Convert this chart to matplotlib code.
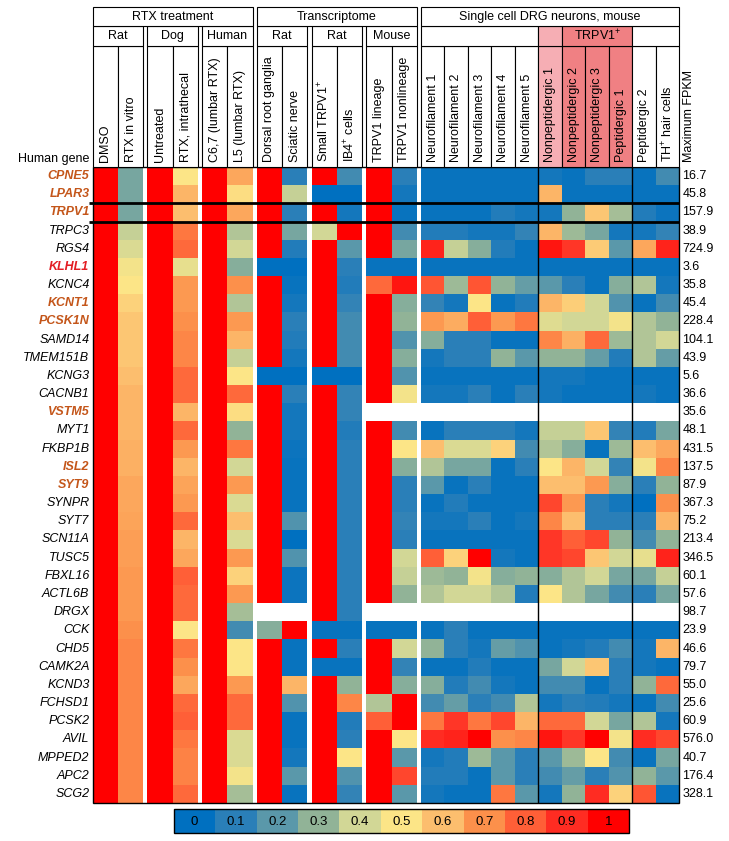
import numpy as np
import matplotlib
matplotlib.use('Agg')
import matplotlib.pyplot as plt
from matplotlib.colors import LinearSegmentedColormap
from matplotlib.patches import Rectangle

plt.rcParams['font.family'] = ['Liberation Sans', 'DejaVu Sans']
plt.rcParams['mathtext.fontset'] = 'custom'
plt.rcParams['mathtext.rm'] = 'Liberation Sans'

# ---- data ----
genes = ['CPNE5', 'LPAR3', 'TRPV1', 'TRPC3', 'RGS4', 'KLHL1', 'KCNC4', 'KCNT1', 'PCSK1N',
         'SAMD14', 'TMEM151B', 'KCNG3', 'CACNB1', 'VSTM5', 'MYT1', 'FKBP1B', 'ISL2', 'SYT9',
         'SYNPR', 'SYT7', 'SCN11A', 'TUSC5', 'FBXL16', 'ACTL6B', 'DRGX', 'CCK', 'CHD5',
         'CAMK2A', 'KCND3', 'FCHSD1', 'PCSK2', 'AVIL', 'MPPED2', 'APC2', 'SCG2']
orange_genes = ['CPNE5', 'LPAR3', 'TRPV1', 'KCNT1', 'PCSK1N', 'VSTM5', 'ISL2', 'SYT9']
red_genes = ['KLHL1']
max_fpkm = [16.7, 45.8, 157.9, 38.9, 724.9, 3.6, 35.8, 45.4, 228.4, 104.1, 43.9, 5.6, 36.6,
            35.6, 48.1, 431.5, 137.5, 87.9, 367.3, 75.2, 213.4, 346.5, 60.1, 57.6, 98.7, 23.9,
            46.6, 79.7, 55.0, 25.6, 60.9, 576.0, 40.7, 176.4, 328.1]

col_labels = ['DMSO', 'RTX in vitro', 'Untreated', 'RTX, intrathecal', 'C6,7 (lumbar RTX)',
              'L5 (lumbar RTX)', 'Dorsal root ganglia', 'Sciatic nerve', 'Small TRPV1$^{+}$',
              'IB4$^{+}$ cells', 'TRPV1 lineage', 'TRPV1 nonlineage', 'Neurofilament 1',
              'Neurofilament 2', 'Neurofilament 3', 'Neurofilament 4', 'Neurofilament 5',
              'Nonpeptidergic 1', 'Nonpeptidergic 2', 'Nonpeptidergic 3', 'Peptidergic 1',
              'Peptidergic 2', 'TH$^{+}$ hair cells']
top_groups = [('RTX treatment', 0, 5), ('Transcriptome', 6, 11),
              ('Single cell DRG neurons, mouse', 12, 22)]
sub_groups = [('Rat', 0, 1), ('Dog', 2, 3), ('Human', 4, 5), ('Rat', 6, 7), ('Rat', 8, 9),
              ('Mouse', 10, 11), ('', 12, 16), ('', 17, 17), ('TRPV1$^{+}$', 18, 20), ('', 21, 22)]

nan = np.nan
# DMSO, RTX in vitro, Untreated, RTX intrathecal, C6,7, L5
rtx = [
    [1, 0.25, 1, 0.50, 1, 0.65], [1, 0.25, 1, 0.62, 1, 0.52], [1, 0.25, 1, 0.60, 1, 0.65],
    [1, 0.38, 1, 0.75, 1, 0.35], [1, 0.42, 1, 0.78, 1, 0.40], [1, 0.48, 1, 0.45, 1, 0.28],
    [1, 0.50, 1, 0.68, 1, 0.70], [1, 0.55, 1, 0.68, 1, 0.35], [1, 0.58, 1, 0.70, 1, 0.68],
    [1, 0.58, 1, 0.72, 1, 0.62], [1, 0.58, 1, 0.72, 1, 0.38], [1, 0.60, 1, 0.78, 1, 0.50],
    [1, 0.62, 1, 0.78, 1, 0.78], [1, 0.62, 1, 0.62, 1, 0.52], [1, 0.62, 1, 0.78, 1, 0.30],
    [1, 0.63, 1, 0.68, 1, 0.75], [1, 0.63, 1, 0.62, 1, 0.40], [1, 0.65, 1, 0.66, 1, 0.68],
    [1, 0.65, 1, 0.68, 1, 0.42], [1, 0.66, 1, 0.78, 1, 0.60], [1, 0.67, 1, 0.62, 1, 0.42],
    [1, 0.67, 1, 0.65, 1, 0.68], [1, 0.68, 1, 0.80, 1, 0.55], [1, 0.68, 1, 0.78, 1, 0.68],
    [1, 0.68, 1, 0.78, 1, 0.33], [1, 0.70, 1, 0.50, 1, 0.15], [1, 0.72, 1, 0.75, 1, 0.50],
    [1, 0.72, 1, 0.70, 1, 0.50], [1, 0.72, 1, 0.65, 1, 0.68], [1, 0.72, 1, 0.78, 1, 0.78],
    [1, 0.72, 1, 0.80, 1, 0.78], [1, 0.72, 1, 0.75, 1, 0.42], [1, 0.72, 1, 0.73, 1, 0.42],
    [1, 0.72, 1, 0.73, 1, 0.48], [1, 0.72, 1, 0.78, 1, 0.33],
]
# DRG, sciatic nerve, small TRPV1+, IB4+, TRPV1 lineage, TRPV1 nonlineage
transcriptome = [
    [1, 0.10, 1, 0.15, 1, 0.10], [1, 0.38, 0, 0, 1, 0.05], [1, 0.10, 1, 0.05, 1, 0.02],
    [1, 0.25, 0.40, 1, 1, 0.15], [1, 0.08, 1, 0.20, 1, 0.25], [0, 0, 1, 0.10, 0.02, 0.02],
    [1, 0.02, 1, 0.08, 0.78, 0.95], [1, 0.05, 1, 0.12, 1, 0.28], [1, 0.10, 1, 0.15, 1, 0.30],
    [1, 0.08, 1, 0.15, 1, 0.18], [1, 0.05, 1, 0.15, 1, 0.28], [0, 0, 0, 0, 1, 0.18],
    [1, 0.10, 1, 0.12, 1, 0.48], [1, 0.05, 1, 0.12, nan, nan], [1, 0.05, 1, 0.08, 1, 0.15],
    [1, 0.03, 1, 0.10, 1, 0.50], [1, 0.02, 1, 0.10, 1, 0.28], [1, 0.02, 1, 0.10, 1, 0.10],
    [1, 0.02, 1, 0.10, 1, 0.10], [1, 0.18, 1, 0.10, 1, 0.12], [1, 0.00, 1, 0.10, 1, 0.10],
    [1, 0.18, 1, 0.10, 1, 0.40], [1, 0.03, 1, 0.10, 1, 0.38], [1, 0.03, 1, 0.10, 1, 0.30],
    [nan, nan, 1, 0.10, nan, nan], [0.28, 1, 0.02, 0.02, 0.02, 0.02], [1, 0.02, 1, 0.10, 1, 0.40],
    [1, 0.02, 0.02, 0.02, 1, 0.12], [1, 0.62, 1, 0.30, 1, 0.28], [1, 0.18, 1, 0.72, 0.35, 1],
    [1, 0.02, 1, 0.08, 0.80, 1], [1, 0.02, 1, 0.10, 1, 0.50], [1, 0.05, 1, 0.50, 1, 0.20],
    [1, 0.20, 1, 0.18, 1, 0.85], [1, 0.02, 1, 0.12, 1, 0.20],
]
# NF1-5, NP1-3, PEP1, PEP2, TH+
single_cell = [
    [0.02, 0.02, 0.02, 0.02, 0.02, 0.05, 0.02, 0.10, 0.10, 0.02, 0.15],
    [0.02, 0.02, 0.02, 0.02, 0.02, 0.62, 0.02, 0.02, 0.02, 0.02, 0.02],
    [0.02, 0.02, 0.02, 0.08, 0.05, 0.05, 0.30, 0.58, 0.33, 0.08, 0.03],
    [0.08, 0.08, 0.05, 0.05, 0.12, 0.62, 0.32, 0.25, 0.05, 0.05, 0.12],
    [0.92, 0.38, 0.28, 0.08, 0.02, 0.95, 0.88, 0.57, 0.20, 0.65, 0.92],
    [0.02, 0.02, 0.02, 0.02, 0.02, 0.02, 0.02, 0.02, 0.02, 0.02, 0.02],
    [0.82, 0.32, 0.82, 0.30, 0.22, 0.20, 0.10, 0.02, 0.28, 0.35, 0.05],
    [0.12, 0.05, 0.50, 0.02, 0.08, 0.62, 0.56, 0.40, 0.18, 0.02, 0.15],
    [0.68, 0.64, 0.80, 0.68, 0.75, 0.43, 0.40, 0.40, 0.48, 0.35, 0.30],
    [0.28, 0.10, 0.10, 0.02, 0.02, 0.72, 0.63, 0.78, 0.32, 0.35, 0.40],
    [0.05, 0.10, 0.10, 0.30, 0.20, 0.30, 0.30, 0.22, 0.08, 0.35, 0.22],
    [0.02, 0.02, 0.02, 0.02, 0.02, 0.05, 0.05, 0.02, 0.02, 0.02, 0.02],
    [0.05, 0.05, 0.10, 0.02, 0.10, 0.05, 0.02, 0.02, 0.02, 0.05, 0.02],
    [nan] * 11,
    [0.02, 0.10, 0.10, 0.10, 0.05, 0.38, 0.38, 0.58, 0.12, 0.08, 0.25],
    [0.60, 0.42, 0.42, 0.55, 0.15, 0.35, 0.28, 0.02, 0.32, 0.60, 0.65],
    [0.35, 0.25, 0.25, 0.02, 0.10, 0.50, 0.62, 0.40, 0.12, 0.48, 0.72],
    [0.20, 0.02, 0.10, 0.02, 0.02, 0.60, 0.60, 0.68, 0.28, 0.10, 0.30],
    [0.02, 0.08, 0.02, 0.02, 0.02, 0.85, 0.68, 0.10, 0.05, 0.00, 0.70],
    [0.05, 0.05, 0.10, 0.02, 0.05, 0.72, 0.60, 0.10, 0.10, 0.10, 0.62],
    [0.02, 0.02, 0.02, 0.02, 0.02, 0.88, 0.80, 0.85, 0.30, 0.15, 0.30],
    [0.80, 0.55, 1.00, 0.05, 0.02, 0.88, 0.85, 0.58, 0.40, 0.45, 0.92],
    [0.32, 0.30, 0.48, 0.28, 0.30, 0.28, 0.35, 0.40, 0.25, 0.25, 0.38],
    [0.35, 0.40, 0.40, 0.35, 0.08, 0.50, 0.35, 0.25, 0.15, 0.10, 0.25],
    [nan] * 11,
    [0.02, 0.10, 0.02, 0.02, 0.02, 0.02, 0.02, 0.02, 0.02, 0.02, 0.02],
    [0.30, 0.10, 0.05, 0.22, 0.18, 0.02, 0.05, 0.08, 0.15, 0.05, 0.62],
    [0.02, 0.02, 0.08, 0.02, 0.02, 0.25, 0.40, 0.58, 0.10, 0.05, 0.02],
    [0.28, 0.08, 0.15, 0.05, 0.02, 0.15, 0.15, 0.02, 0.10, 0.30, 0.78],
    [0.15, 0.22, 0.10, 0.15, 0.35, 0.05, 0.10, 0.08, 0.05, 0.02, 0.15],
    [0.75, 0.88, 0.75, 0.85, 0.62, 0.78, 0.78, 0.40, 0.25, 0.35, 0.05],
    [0.90, 0.92, 1.00, 0.70, 0.72, 0.95, 0.88, 1.00, 0.48, 0.90, 0.85],
    [0.05, 0.08, 0.32, 0.20, 0.10, 0.20, 0.32, 0.50, 0.15, 0.02, 0.25],
    [0.08, 0.08, 0.02, 0.20, 0.10, 0.15, 0.22, 0.10, 0.18, 0.30, 0.20],
    [0.05, 0.02, 0.02, 0.75, 0.20, 0.05, 0.30, 0.90, 0.55, 0.82, 0.02],
]
legend_ticks = [0, 0.1, 0.2, 0.3, 0.4, 0.5, 0.6, 0.7, 0.8, 0.9, 1]

# ---- colours ----
anchor_colors = ['#0070C0', '#2B7FB8', '#5A98AA', '#92B497', '#D2D796', '#FCE687',
                 '#FCBE6E', '#FC914B', '#FF5F37', '#FF2D23', '#FF0000']
cmap = LinearSegmentedColormap.from_list('heat', list(zip(legend_ticks, anchor_colors)))
cmap.set_bad('white')
orange = '#C4561A'
red = '#E31E24'
light_pink = '#F6AEB4'
salmon = '#F08083'

# ---- layout (pixels) ----
W, H = 729, 841
fig = plt.figure(figsize=(W / 100, H / 100), dpi=100)
ax = fig.add_axes([0, 0, 1, 1])
ax.set_xlim(0, W)
ax.set_ylim(H, 0)
ax.axis('off')

values = np.hstack([np.array(rtx), np.array(transcriptome), np.array(single_cell)])
n_rows, n_cols = values.shape
widths = [25.3] * 12 + [23.5] * 11
gap_after = {1, 3, 5, 7, 9, 11}
lefts = []
x = 92.7
for j in range(n_cols):
    lefts.append(x)
    x += widths[j]
    if j in gap_after:
        x += 4.1
rights = [l + w for l, w in zip(lefts, widths)]
top, row_h = 167, 18.17
y_edges = top + row_h * np.arange(n_rows + 1)
y_mid = (y_edges[:-1] + y_edges[1:]) / 2
bottom = y_edges[-1]

# heatmap blocks separated by white gaps
blocks = [(0, 1), (2, 3), (4, 5), (6, 7), (8, 9), (10, 11), (12, 22)]
for a, b in blocks:
    xe = lefts[a:b + 1] + [rights[b]]
    ax.pcolormesh(xe, y_edges, np.ma.masked_invalid(values[:, a:b + 1]),
                  cmap=cmap, vmin=0, vmax=1, shading='flat', antialiased=False)

ax.add_patch(Rectangle((lefts[0], top), rights[-1] - lefts[0], bottom - top,
                       fill=False, ec='black', lw=1))
ax.vlines([lefts[17], rights[20]], top, bottom, color='black', lw=1)
ax.hlines([y_edges[2], y_edges[3]], 89.5, rights[-1], color='black', lw=2)

# header: column boxes
lab_top = 45.7
for j, lab in enumerate(col_labels):
    fc = light_pink if j == 17 else (salmon if 18 <= j <= 20 else 'white')
    ax.add_patch(Rectangle((lefts[j], lab_top), widths[j], top - lab_top, fc=fc, ec='black', lw=0.8))
    ax.text((lefts[j] + rights[j]) / 2, top - 5, lab, rotation=90, ha='center', va='bottom', fontsize=9)

for lab, a, b in sub_groups:
    fc = light_pink if a == 17 else (salmon if a == 18 else 'white')
    ax.add_patch(Rectangle((lefts[a], 26), rights[b] - lefts[a], lab_top - 26, fc=fc, ec='black', lw=0.8))
    ax.text((lefts[a] + rights[b]) / 2, 36, lab, ha='center', va='center', fontsize=9)

for lab, a, b in top_groups:
    ax.add_patch(Rectangle((lefts[a], 7), rights[b] - lefts[a], 19, fc='white', ec='black', lw=0.8))
    ax.text((lefts[a] + rights[b]) / 2, 16.5, lab, ha='center', va='center', fontsize=9)

ax.text(89.5, 162, 'Human gene', ha='right', va='baseline', fontsize=9)
ax.text(rights[-1] + 10, top - 5, 'Maximum FPKM', rotation=90, ha='center', va='bottom', fontsize=9)

# row labels and max FPKM
for g, yc, v in zip(genes, y_mid, max_fpkm):
    if g in orange_genes:
        ax.text(89.5, yc, g, ha='right', va='center', fontsize=9, style='italic',
                fontweight='bold', color=orange)
    elif g in red_genes:
        ax.text(89.5, yc, g, ha='right', va='center', fontsize=9, style='italic',
                fontweight='bold', color=red)
    else:
        ax.text(89.5, yc, g, ha='right', va='center', fontsize=9, style='italic')
    ax.text(rights[-1] + 3, yc, f'{v:.1f}', ha='left', va='center', fontsize=9)

# colour key
lx0, lx1, ly0, ly1 = 174, 629, 809.3, 833.3
lx = np.linspace(lx0, lx1, len(legend_ticks) + 1)
ax.pcolormesh(lx, [ly0, ly1], [legend_ticks], cmap=cmap, vmin=0, vmax=1, shading='flat')
ax.add_patch(Rectangle((lx0, ly0), lx1 - lx0, ly1 - ly0, fill=False, ec='black', lw=1))
for t, xa, xb in zip(legend_ticks, lx[:-1], lx[1:]):
    ax.text((xa + xb) / 2, (ly0 + ly1) / 2 + 0.5, f'{t:g}', ha='center', va='center', fontsize=9.5)

fig.savefig('out.png', dpi=100)
